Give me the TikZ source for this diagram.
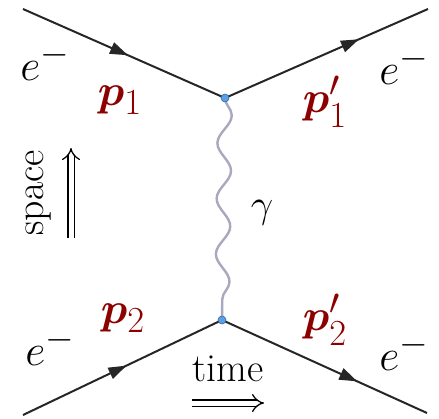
\documentclass[tikz,border=0pt]{standalone}
\usepackage{graphicx}
\usepackage{amsmath,bm}
\usetikzlibrary{decorations.pathmorphing,decorations.markings,arrows.meta}
\definecolor{pred}{RGB}{140,0,0}
\definecolor{photoncol}{RGB}{168,168,190}
\definecolor{vfill}{RGB}{95,160,220}
\definecolor{vdraw}{RGB}{40,105,175}
\newcommand{\bigmath}[1]{\scalebox{1.77}{\Huge$#1$}}
\newcommand{\bigtext}[1]{\scalebox{1.6}{\Huge #1}}
\begin{document}
\begin{tikzpicture}[x=1pt,y=-1pt,
  fermion/.style={line width=2pt, black!85, postaction={decorate},
    decoration={markings, mark=at position #1 with {\arrow{Triangle[length=18pt,width=12pt]}}}},
  photonline/.style={photoncol, line width=2.4pt, decorate,
    decoration={snake, amplitude=7pt, segment length=55.5pt}},
  vertexdot/.style={circle, fill=vfill, draw=vdraw, line width=0.6pt, inner sep=0pt, minimum size=8pt},
  elabel/.style={inner sep=0pt},
  plabel/.style={text=pred, inner sep=0pt},
  txt/.style={inner sep=0pt},
  dbl/.style={line width=1.3pt, double distance=5pt, -{Implies}}]
\useasboundingbox (0,0) rectangle (439,418);
\coordinate (a1) at (23,9);
\coordinate (b1) at (428,9);
\coordinate (a2) at (23,415);
\coordinate (b2) at (427,413);
\coordinate (v1) at (225,98);
\coordinate (v2) at (222,320);
\draw[photonline] (v1) -- (v2);
\draw[fermion=0.52] (a1) -- (v1);
\draw[fermion=0.66] (v1) -- (b1);
\draw[fermion=0.52] (a2) -- (v2);
\draw[fermion=0.66] (v2) -- (b2);
\node[vertexdot] (n1) at (v1) {};
\node[vertexdot] (n2) at (v2) {};
\node[elabel] (e1) at (45,62) {\bigmath{e^-}};
\node[elabel] (e2) at (404,66) {\bigmath{e^-}};
\node[elabel] (e3) at (50,347) {\bigmath{e^-}};
\node[elabel] (e4) at (404,352) {\bigmath{e^-}};
\node[plabel] (p1) at (120,100) {\bigmath{\bm{p}_1}};
\node[plabel] (p1p) at (325,102) {\bigmath{\bm{p}'_1}};
\node[plabel] (p2) at (123,318) {\bigmath{\bm{p}_2}};
\node[plabel] (p2p) at (325,320) {\bigmath{\bm{p}'_2}};
\node[elabel] (g) at (262,213) {\scalebox{1.6}{\Huge$\gamma$}};
\node[txt, rotate=90] (sp) at (39,193) {\bigtext{space}};
\node[txt] (tm) at (228,369) {\bigtext{time}};
\coordinate (sa) at (71,238);
\coordinate (sb) at (71,148);
\coordinate (ta) at (192,403);
\coordinate (tb) at (264,403);
\draw[dbl] (sa) -- (sb);
\draw[dbl] (ta) -- (tb);
\end{tikzpicture}
\end{document}
